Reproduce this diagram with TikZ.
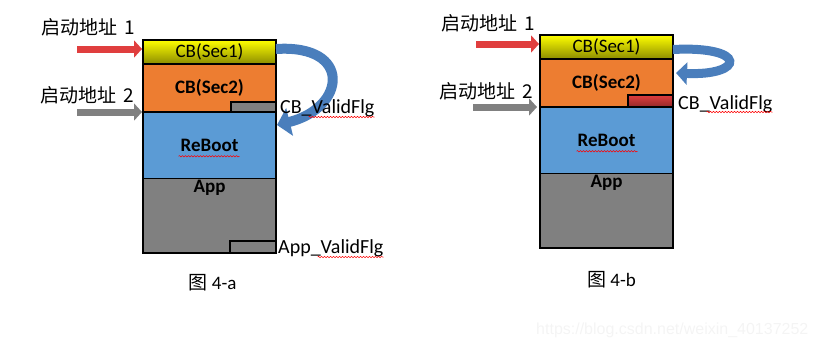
\documentclass[tikz,border=0pt]{standalone}
\usepackage{fontspec}
\setmainfont{Carlito}
\newfontfamily\cjk{Noto Sans CJK SC}
\newfontfamily\marcafont{Liberation Sans}
\usepackage{xcolor}
\usetikzlibrary{arrows.meta,positioning,calc,decorations.pathmorphing}
\newcommand{\diagfont}{\fontsize{19}{22}\selectfont}
\definecolor{yellowTop}{RGB}{255,255,0}
\definecolor{yellowBot}{RGB}{140,140,0}
\definecolor{orangeSec}{RGB}{237,125,49}
\definecolor{blueSec}{RGB}{91,155,213}
\definecolor{graySec}{RGB}{128,128,128}
\definecolor{redFlag}{RGB}{224,62,62}
\definecolor{jumpBlue}{RGB}{74,126,188}
\tikzset{
    memblock/.style={
        rectangle,
        draw,
        line width=1.8pt,
        outer sep=0pt,
        inner sep=0pt,
        minimum width=133pt,
        align=center,
        font=\diagfont
    },
    sec1blk/.style={memblock, minimum height=24pt, top color=yellowTop,
        middle color=yellowTop!92!yellowBot, bottom color=yellowBot},
    sec2blk/.style={memblock, minimum height=48pt, fill=orangeSec, font=\diagfont\bfseries},
    rebootblk/.style={memblock, minimum height=66.5pt, fill=blueSec, font=\diagfont\bfseries},
    appblk/.style={memblock, minimum height=74.5pt, fill=graySec},
    flagbox/.style={rectangle, draw, line width=1.5pt, outer sep=0pt, inner sep=0pt,
        minimum width=45pt, minimum height=11pt},
    flagtext/.style={inner sep=0pt, font=\fontsize{20}{24}\selectfont},
    addrlabel/.style={inner sep=0pt, font=\cjk\fontsize{19}{22}\selectfont},
    caption/.style={inner sep=0pt, font=\diagfont},
    bootarrow/.style={line width=7pt, -{Triangle[length=8pt,width=17pt]}, shorten >=1pt},
    jumparrow/.style={draw=jumpBlue, line width=10pt},
    squiggle/.style={draw=red, line width=0.5pt, decorate,
        decoration={snake, amplitude=0.7pt, segment length=3pt}}
}

\begin{document}
\begin{tikzpicture}[x=1pt, y=-1pt, font=\diagfont]
    \useasboundingbox (0,0) rectangle (818,349);

    % 图 4-a
    \node[sec1blk, anchor=north west] (sec1A) at (143,40) {CB(Sec1)};
    \node[sec2blk, below=0pt of sec1A] (sec2A) {CB(Sec2)};
    \node[rebootblk, below=0pt of sec2A] (rebootA) {ReBoot};
    \node[appblk, below=0pt of rebootA] (appA) {};
    \node[inner sep=0pt, anchor=north, font=\diagfont\bfseries] (appTextA) at ($(appA.north)+(0,1.5)$) {App};
    \node[flagbox, fill=graySec, minimum height=10pt, anchor=south east] (cbFlagA) at (sec2A.south east) {};
    \node[flagbox, fill=graySec, minimum width=46pt, minimum height=12pt, anchor=south east] (appFlagA) at (appA.south east) {};

    \node[addrlabel, anchor=west] (addr1LabelA) at (41,27) {启动地址\hspace{7pt}1};
    \node[addrlabel, anchor=west] (addr2LabelA) at (40,95.5) {启动地址\hspace{7pt}2};
    \coordinate (addr1A) at (77,49);
    \coordinate (addr2A) at (77,112);
    \draw[bootarrow, redFlag] (addr1A) -- (addr1A -| sec1A.west);
    \draw[bootarrow, graySec] (addr2A) -- (addr2A -| rebootA.west);

    \draw[jumparrow, -{Triangle[length=13pt,width=28pt]}]
        ($(sec1A.east)+(0,-3)$) .. controls +(77,-5) and +(69,-17) .. ($(rebootA.north east)+(1,13)$);

    \node[flagtext, anchor=base west] (cbFlagTextA) at ($(cbFlagA.south east)+(4,1)$) {CB\_ValidFlg};
    \node[flagtext, anchor=base west] (appFlagTextA) at ($(appFlagA.south east)+(2,0)$) {App\_ValidFlg};
    \node[caption] (figA) at ($(appA.south)+(3,30)$) {{\cjk 图} 4-a};

    \draw[squiggle] ($(rebootA.center)+(-31,11)$) -- ($(rebootA.center)+(30,11)$);
    \draw[squiggle] ($(cbFlagTextA.base east)+(-66,4)$) -- ($(cbFlagTextA.base east)+(0,4)$);
    \draw[squiggle] ($(appFlagTextA.base east)+(-66,4)$) -- ($(appFlagTextA.base east)+(0,4)$);

    % 图 4-b
    \node[sec1blk, anchor=north west] (sec1B) at (540,35) {CB(Sec1)};
    \node[sec2blk, below=0pt of sec1B] (sec2B) {CB(Sec2)};
    \node[rebootblk, below=0pt of sec2B] (rebootB) {ReBoot};
    \node[appblk, below=0pt of rebootB] (appB) {};
    \node[inner sep=0pt, anchor=north, font=\diagfont\bfseries] (appTextB) at ($(appB.north)+(0,1.5)$) {App};
    \node[flagbox, top color=redFlag, bottom color=redFlag!65!black, minimum height=12pt, anchor=south east] (cbFlagB) at (sec2B.south east) {};

    \node[addrlabel, anchor=west] (addr1LabelB) at (441,23) {启动地址\hspace{7pt}1};
    \node[addrlabel, anchor=west] (addr2LabelB) at (439,91) {启动地址\hspace{7pt}2};
    \coordinate (addr1B) at (476,44);
    \coordinate (addr2B) at (473,107);
    \draw[bootarrow, redFlag] (addr1B) -- (addr1B -| sec1B.west);
    \draw[bootarrow, graySec, shorten >=3pt] (addr2B) -- (addr2B -| rebootB.west);

    \draw[jumparrow, line width=9pt, -{Triangle[length=11pt,width=22pt]}]
        ($(sec1B.east)+(0,2.5)$) .. controls +(75,-4) and +(69,3) .. ($(sec2B.north east)+(3,14)$);

    \node[flagtext, anchor=base west] (cbFlagTextB) at ($(cbFlagB.south east)+(5,2)$) {CB\_ValidFlg};
    \node[caption] (figB) at ($(appB.south)+(5,31.5)$) {{\cjk 图} 4-b};

    \draw[squiggle] ($(rebootB.center)+(-30,11)$) -- ($(rebootB.center)+(31,11)$);
    \draw[squiggle] ($(cbFlagTextB.base east)+(-66,3)$) -- ($(cbFlagTextB.base east)+(0,3)$);

    \node[inner sep=0pt, anchor=west, text=gray!9, font=\marcafont\fontsize{16}{18}\selectfont] (watermark) at (536,330) {https://blog.csdn.net/weixin\_40137252};
\end{tikzpicture}
\end{document}
